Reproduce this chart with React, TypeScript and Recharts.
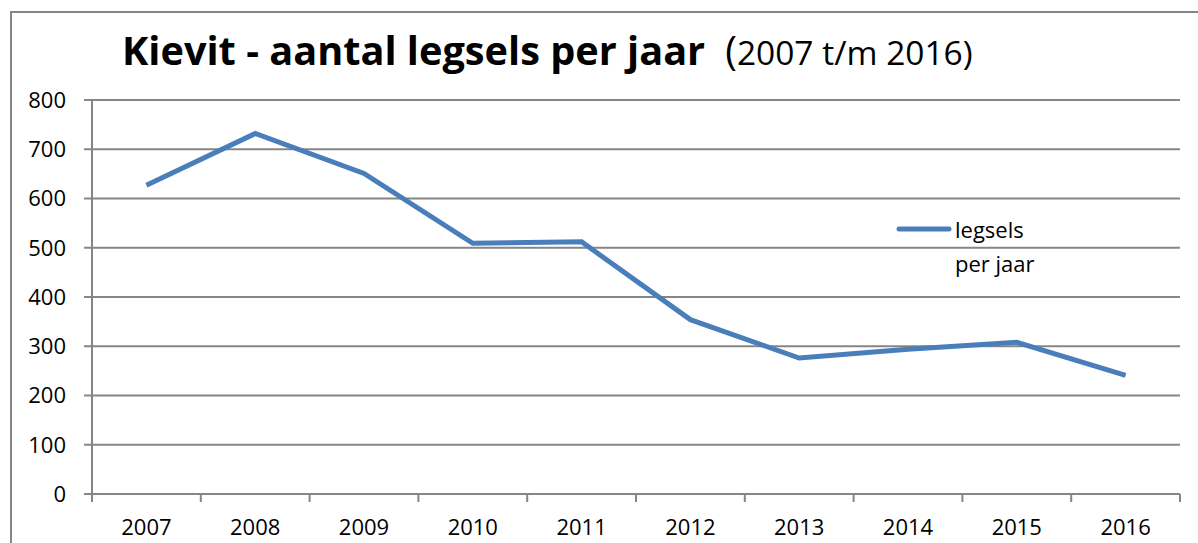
import React from 'react';
import { LineChart, Line, XAxis, YAxis, CartesianGrid } from 'recharts';

const years = [2007, 2008, 2009, 2010, 2011, 2012, 2013, 2014, 2015, 2016];
const legsels = [627, 732, 651, 509, 512, 354, 276, 294, 308, 241];
const yTicks = [0, 100, 200, 300, 400, 500, 600, 700, 800];

const data = years.map((year, i) => ({ year, legsels: legsels[i] }));
// labels at the years, small tick marks between the years
const xTicks = [...years.map((y) => y - 0.5), years[years.length - 1] + 0.5, ...years];

const FONT = '"Open Sans", Lato, sans-serif';
const GRID = '#868686';
const BLUE = '#4a7ebb';

const XTick = (props: any) => {
  const { x, y, payload } = props;
  if (!Number.isInteger(payload.value)) {
    return <line x1={x} x2={x} y1={y} y2={y + 8} stroke={GRID} strokeWidth={2} />;
  }
  return (
    <text x={x} y={y + 41} textAnchor="middle" fill="#000" fontSize={22} fontFamily={FONT}>
      {payload.value}
    </text>
  );
};

const App = () => {
  return (
    <div style={{ position: 'absolute', left: 0, top: 0, width: 1198, height: 543, overflow: 'hidden', background: '#fff' }}>
      <div
        style={{
          position: 'absolute', left: 10, top: 11, width: 1300, height: 700,
          borderLeft: `2px solid ${GRID}`, borderTop: `2px solid ${GRID}`,
        }}
      />
      <div style={{ position: 'absolute', left: 122, top: 23, whiteSpace: 'nowrap', fontFamily: FONT, color: '#000' }}>
        <span style={{ fontWeight: 700, fontSize: 39.7 }}>Kievit - aantal legsels per jaar</span>
        <span style={{ fontSize: 39.7, marginLeft: 20 }}>(</span>
        <span style={{ fontSize: 33.5 }}>2007 t/m 2016)</span>
      </div>
      <LineChart
        width={1198}
        height={543}
        data={data}
        margin={{ top: 100, right: 18, bottom: 0, left: 0 }}
        style={{ position: 'absolute', left: 0, top: 0 }}
      >
        <CartesianGrid vertical={false} stroke={GRID} strokeWidth={2} />
        <XAxis
          dataKey="year"
          type="number"
          domain={[2006.5, 2016.5]}
          ticks={xTicks}
          interval={0}
          tick={<XTick />}
          tickLine={false}
          tickSize={0}
          tickMargin={0}
          axisLine={{ stroke: GRID, strokeWidth: 2 }}
          height={49}
        />
        <YAxis
          domain={[0, 800]}
          ticks={yTicks}
          interval={0}
          width={92}
          tickSize={8}
          tickMargin={18}
          tickLine={{ stroke: GRID, strokeWidth: 2 }}
          axisLine={{ stroke: GRID, strokeWidth: 2 }}
          tick={{ fill: '#000', fontSize: 22, fontFamily: FONT }}
        />
        <Line
          type="linear"
          dataKey="legsels"
          stroke={BLUE}
          strokeWidth={5}
          dot={false}
          activeDot={false}
          isAnimationActive={false}
        />
      </LineChart>
      <div style={{ position: 'absolute', left: 896, top: 212, fontFamily: FONT, fontSize: 22, lineHeight: '34px', color: '#000' }}>
        <svg width={56} height={10} style={{ position: 'absolute', left: 0, top: 12 }}>
          <line x1={3} x2={53} y1={5} y2={5} stroke={BLUE} strokeWidth={5} strokeLinecap="round" />
        </svg>
        <div style={{ marginLeft: 59 }}>
          legsels
          <br />
          per jaar
        </div>
      </div>
    </div>
  );
};

export default App;
